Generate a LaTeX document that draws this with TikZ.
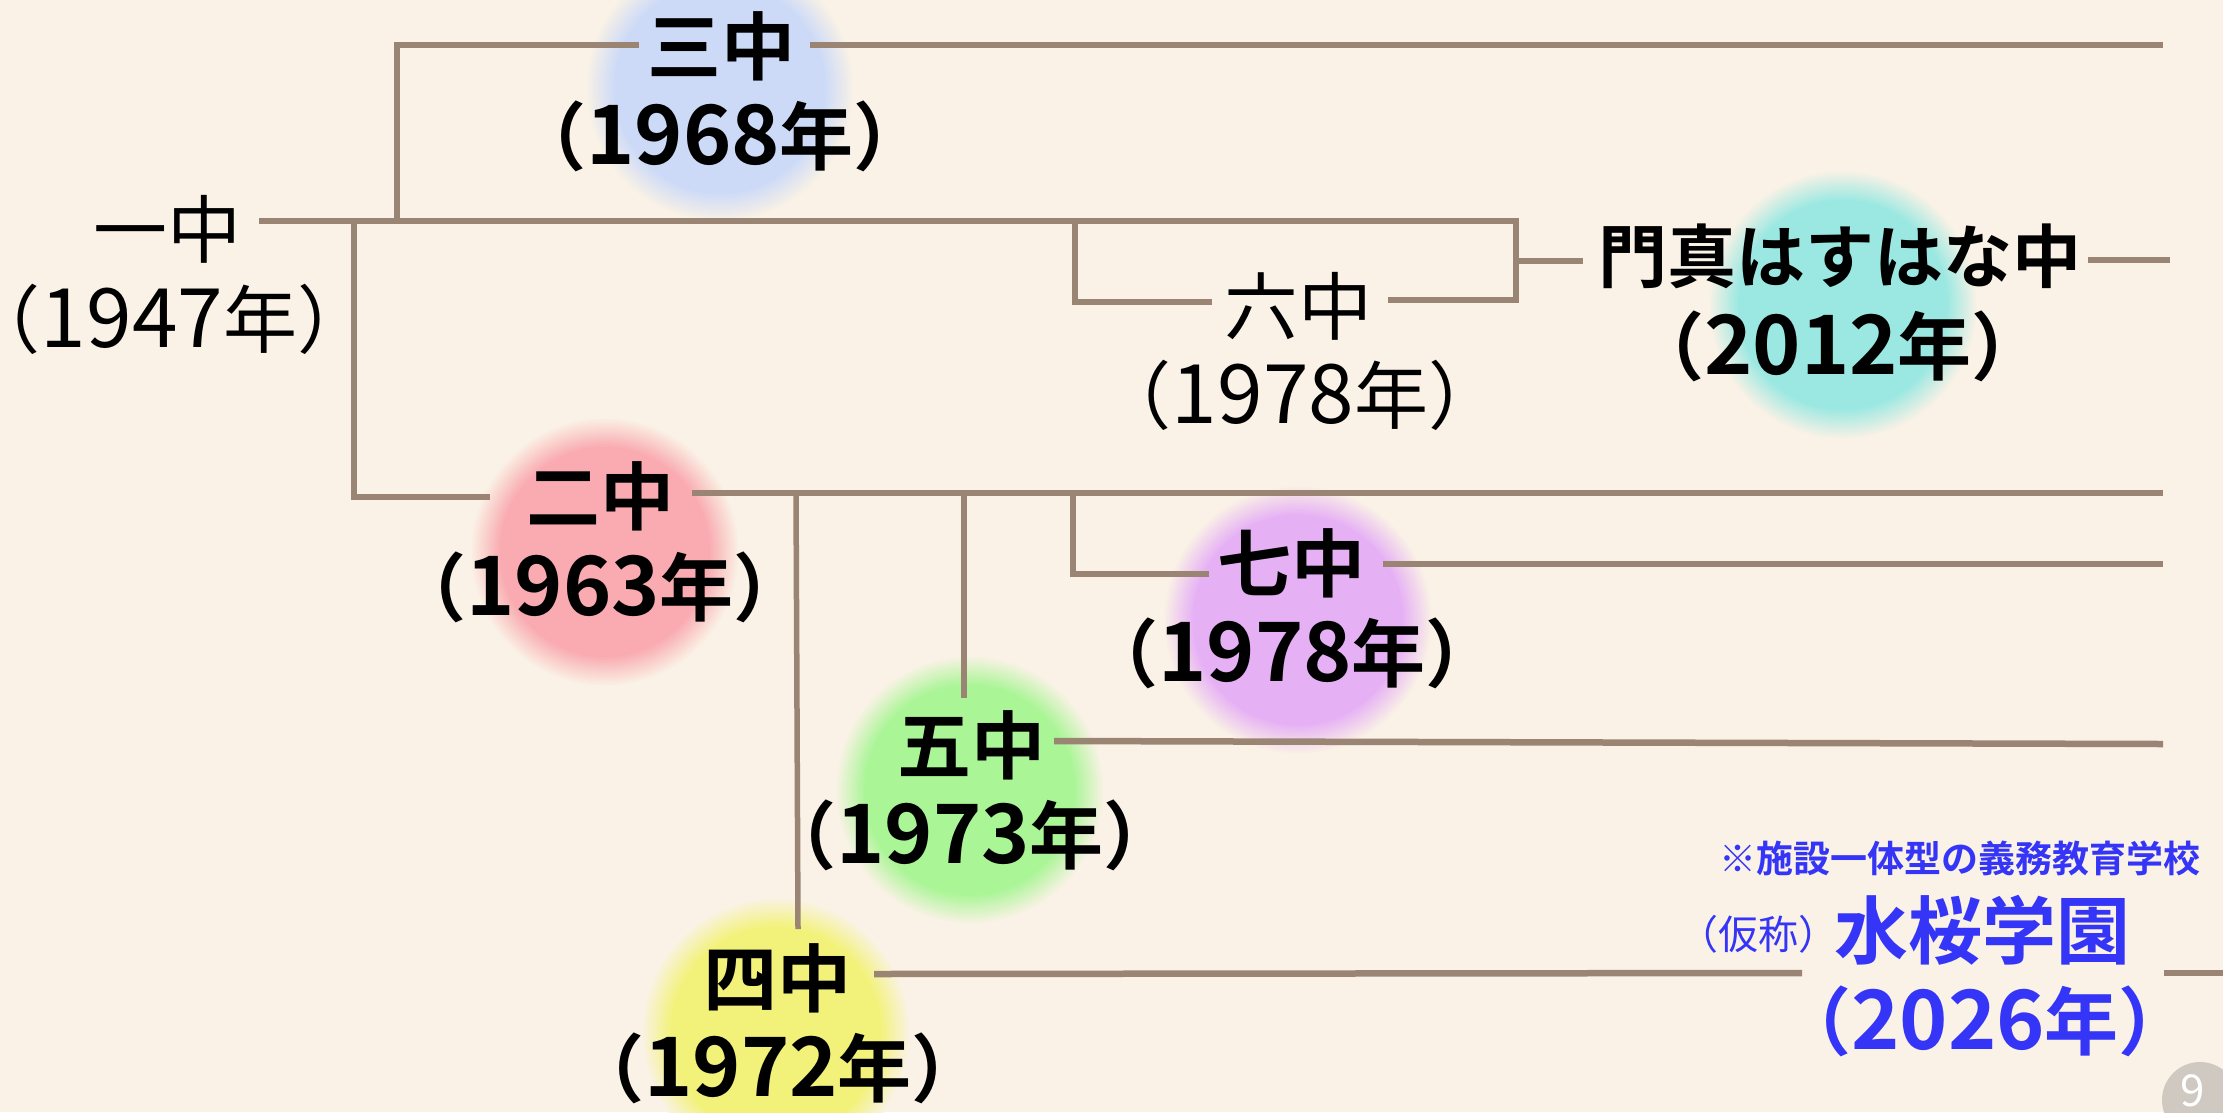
\documentclass[tikz,border=0pt]{standalone}
\usepackage{fontspec}
\newfontfamily\jp{Noto Sans CJK JP}
\newfontfamily\jpb{Noto Sans CJK JP Bold}
\definecolor{bgc}{HTML}{FAF2E6}
\definecolor{linec}{HTML}{9A8575}
\definecolor{txtblue}{HTML}{3535F8}
\definecolor{gblue}{HTML}{CCDAF8}
\definecolor{gcyan}{HTML}{9BE8E2}
\definecolor{gpink}{HTML}{F9ABB1}
\definecolor{gpurple}{HTML}{E6B0F5}
\definecolor{ggreen}{HTML}{AAF596}
\definecolor{gyellow}{HTML}{F2F27A}
\definecolor{pagegray}{HTML}{CFC9C1}
\newcommand\glowdisc[3]{%
  \foreach \k in {0,...,20}{%
    \pgfmathsetmacro\rr{135-\k*1.5}%
    \pgfmathtruncatemacro\pp{\k*5}%
    \fill[#1!\pp!bgc] (#2,#3) circle[radius=\rr];
  }}
\newcommand\yr[1]{{\fontsize{82}{82}\selectfont #1}}
\tikzset{
  lblb/.style={font=\jpb\fontsize{74}{74}\selectfont, inner sep=0pt},
  lblr/.style={font=\jp\fontsize{74}{74}\selectfont, inner sep=0pt},
  lblblue/.style={font=\jpb\fontsize{74}{74}\selectfont, inner sep=0pt, text=txtblue},
  conn/.style={draw=linec, line width=6.5pt},
  thinconn/.style={draw=linec, line width=5.5pt},
}
\begin{document}
\begin{tikzpicture}[x=1pt,y=-1pt]
\useasboundingbox (0,0) rectangle (2223,1112);
\fill[bgc] (0,0) rectangle (2223,1112);
% glows
\glowdisc{gblue}{720}{88}
\glowdisc{gcyan}{1843}{305}
\glowdisc{gpink}{605}{552}
\glowdisc{gpurple}{1298}{620}
\glowdisc{ggreen}{970}{790}
\glowdisc{gyellow}{776}{1032}
% coordinates
\coordinate (c1a) at (259,221);
\coordinate (c1b) at (1516,221);
\coordinate (c1c) at (1516,300);
\coordinate (c6r) at (1388,300);
\coordinate (c3j) at (397,221);
\coordinate (c3c) at (397,45);
\coordinate (c3l) at (639,45);
\coordinate (c3r) at (810,45);
\coordinate (c3e) at (2163,45);
\coordinate (c6j) at (1075,221);
\coordinate (c6c) at (1075,302);
\coordinate (c6l) at (1212,302);
\coordinate (ckj) at (1516,261);
\coordinate (ckl) at (1583,261);
\coordinate (ckr) at (2088,260);
\coordinate (cke) at (2170,260);
\coordinate (c2j) at (354,221);
\coordinate (c2c) at (354,497);
\coordinate (c2l) at (490,497);
\coordinate (c2r) at (692,493);
\coordinate (c2e) at (2163,493);
\coordinate (c4j) at (796,493);
\coordinate (c4t) at (798,929);
\coordinate (c5j) at (964,493);
\coordinate (c5t) at (964,698);
\coordinate (c7j) at (1073,493);
\coordinate (c7c) at (1073,574);
\coordinate (c7l) at (1209,574);
\coordinate (c7r) at (1383,564);
\coordinate (c7e) at (2163,564);
\coordinate (c5r) at (1054,741);
\coordinate (c5e) at (2163,744);
\coordinate (c4r) at (874,974);
\coordinate (c4e) at (1802,973);
\coordinate (cmr) at (2164,973);
\coordinate (cme) at (2223,973);
% connectors
\draw[conn] (c1a) -- (c1b) -- (c1c) -- (c6r);
\draw[conn] (c3j) -- (c3c) -- (c3l);
\draw[conn] (c3r) -- (c3e);
\draw[conn] (c6j) -- (c6c) -- (c6l);
\draw[conn] (ckj) -- (ckl);
\draw[conn] (ckr) -- (cke);
\draw[conn] (c2j) -- (c2c) -- (c2l);
\draw[conn] (c2r) -- (c2e);
\draw[thinconn] (c4j) -- (c4t);
\draw[thinconn] (c5j) -- (c5t);
\draw[conn] (c7j) -- (c7c) -- (c7l);
\draw[conn] (c7r) -- (c7e);
\draw[conn] (c5r) -- (c5e);
\draw[conn] (c4r) -- (c4e);
\draw[conn] (cmr) -- (cme);
% labels
\node[lblr] (n1) at (167,229) {一中};
\node[lblr] (y1) at (169,319) {\makebox[300pt]{（\yr{1947}年）}};
\node[lblb] (n3) at (721,46) {三中};
\node[lblb] (y3) at (720,136) {（\yr{1968}年）};
\node[lblr] (n6) at (1298,306) {六中};
\node[lblr] (y6) at (1300,395) {（\yr{1978}年）};
\node[lblb, font=\jpb\fontsize{69}{69}\selectfont] (nk) at (1840,256) {門真はすはな中};
\node[lblb] (yk) at (1838,346) {（\yr{2012}年）};
\node[lblb] (n2) at (600,496) {二中};
\node[lblb] (y2) at (600,587) {（\yr{1963}年）};
\node[lblb] (n7) at (1291,563) {七中};
\node[lblb] (y7) at (1292,653) {（\yr{1978}年）};
\node[lblb] (n5) at (971,745) {五中};
\node[lblb] (y5) at (970,835) {（\yr{1973}年）};
\node[lblb] (n4) at (777,978) {四中};
\node[lblb] (y4) at (778,1068) {（\yr{1972}年）};
\node[font=\jpb\fontsize{37}{37}\selectfont, inner sep=0pt, text=txtblue] (note) at (1960,858) {※施設一体型の義務教育学校};
\node[font=\jp\fontsize{40}{40}\selectfont, inner sep=0pt, text=txtblue] (kasho) at (1758,934) {（仮称）};
\node[lblblue] (nm) at (1982,930) {水桜学園};
\node[lblblue] (ym) at (1985,1021) {（\yr{2026}年）};
% page number
\fill[pagegray] (2200,1100) circle[radius=38];
\node[font=\jp\fontsize{44}{44}\selectfont, inner sep=0pt, text=white] (pg) at (2193,1091) {9};
\end{tikzpicture}
\end{document}
